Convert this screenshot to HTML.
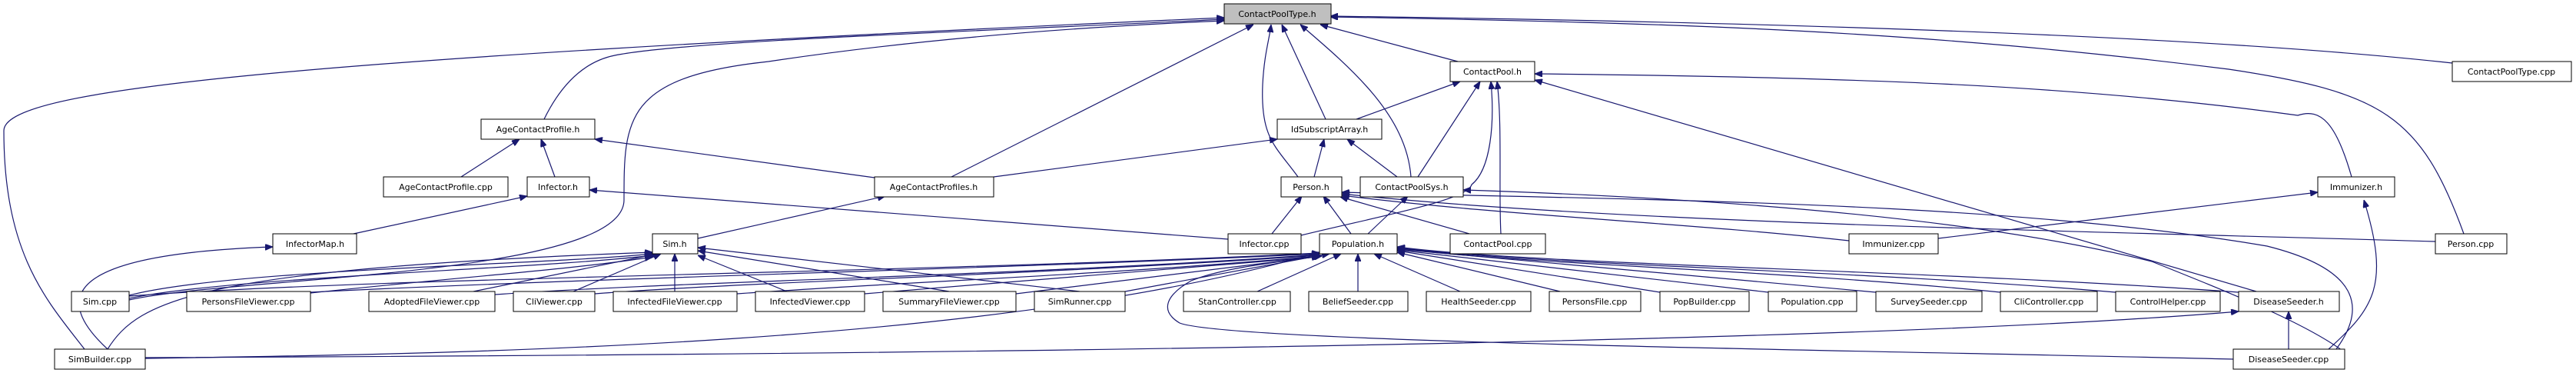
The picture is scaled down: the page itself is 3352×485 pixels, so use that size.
<!DOCTYPE html>
<html><head><meta charset="utf-8"><style>
html,body{margin:0;padding:0;background:#fff;}
svg{display:block;}
text{font-family:"DejaVu Sans","Liberation Sans",sans-serif;font-size:11px;fill:#000;text-anchor:middle;}
.n{fill:#fff;stroke:#000;stroke-width:1;}
.e{fill:none;stroke:#191970;stroke-width:1.2;}
</style></head><body>
<svg width="3352" height="485" viewBox="0 0 3352 485" xmlns="http://www.w3.org/2000/svg">
<defs><marker id="a" viewBox="0 0 10 8" refX="10" refY="4" markerWidth="10" markerHeight="8" markerUnits="userSpaceOnUse" orient="auto"><path d="M0,0L10,4L0,8z" fill="#191970" stroke="#191970"/></marker></defs>
<g class="e" marker-end="url(#a)">
<path d="M110,454 C60,390 5,330 5,170 C5,120 300,80 1593,23"/>
<path d="M708,155 C730,110 760,80 800,72 C900,52 1300,40 1593,25"/>
<path d="M168,390 C300,360 812,360 812,260 C812,155 812,100 1000,80 C1200,50 1400,35 1593,27"/>
<path d="M1238,230 L1631,32"/>
<path d="M1689,230 C1660,190 1640,180 1643,110 C1645,70 1652,50 1654,32"/>
<path d="M1725,155 L1668,32"/>
<path d="M1836,230 C1830,150 1760,90 1692,32"/>
<path d="M1897,80 L1718,32"/>
<path d="M3191,82 C2900,50 2400,30 1731,21"/>
<path d="M3206,304 C3150,150 3100,120 2900,90 C2500,40 2200,30 1731,22"/>
<path d="M1765,155 L1900,106"/>
<path d="M1845,230 L1926,106"/>
<path d="M1953,304 C1950,250 1955,160 1948,106"/>
<path d="M1693,306 C1800,280 1910,260 1915,240 C1940,220 1945,160 1940,106"/>
<path d="M3060,230 C3040,160 3020,140 2990,150 C2700,110 2400,100 1997,96"/>
<path d="M2936,379 L1997,104"/>
<path d="M600,230 L676,181"/>
<path d="M722,230 L704,181"/>
<path d="M1138,231 L774,181"/>
<path d="M1293,230 L1662,181"/>
<path d="M1710,230 L1723,181"/>
<path d="M1818,230 L1753,181"/>
<path d="M460,304 L686,255"/>
<path d="M1598,311 L767,247"/>
<path d="M908,310 L1152,255"/>
<path d="M140,454 C60,380 100,330 355,321"/>
<path d="M1655,304 L1694,255"/>
<path d="M1758,304 L1722,255"/>
<path d="M1912,304 L1744,256"/>
<path d="M2406,313 C2200,290 1950,280 1746,254"/>
<path d="M3169,314 C2700,300 2100,290 1746,252"/>
<path d="M3040,454 C3080,400 3070,350 2950,320 C2600,260 2100,260 1746,250"/>
<path d="M1780,304 L1832,255"/>
<path d="M3051,458 C3000,420 2900,380 2800,340 C2600,290 2300,260 1904,247"/>
<path d="M2522,310 L3016,250"/>
<path d="M3030,454 C3090,400 3110,370 3076,260"/>
<path d="M168,384 C300,350 700,345 849,330"/>
<path d="M168,388 C300,360 700,350 849,332"/>
<path d="M404,381 C600,360 750,350 849,334"/>
<path d="M616,379 L855,330"/>
<path d="M746,379 L860,330"/>
<path d="M878,379 L878,330"/>
<path d="M1024,379 L908,332"/>
<path d="M1235,379 L908,326"/>
<path d="M1405,379 L908,322"/>
<path d="M140,454 C180,390 260,350 849,328"/>
<path d="M168,385 C500,360 1200,355 1717,329"/>
<path d="M404,380 C800,360 1300,350 1717,330"/>
<path d="M644,383 C900,365 1300,360 1717,331"/>
<path d="M774,382 C1000,365 1300,360 1717,332"/>
<path d="M959,382 C1200,365 1400,360 1717,333"/>
<path d="M1125,382 L1717,334"/>
<path d="M1322,382 L1720,333"/>
<path d="M1464,379 L1730,330"/>
<path d="M1636,379 L1745,330"/>
<path d="M1767,379 L1767,330"/>
<path d="M1900,379 L1788,330"/>
<path d="M2030,379 L1818,328"/>
<path d="M2160,380 L1818,326"/>
<path d="M2301,380 L1818,325"/>
<path d="M2441,380 L1818,324"/>
<path d="M2603,380 C2300,350 2000,345 1818,323"/>
<path d="M2753,380 C2400,350 2000,345 1818,322"/>
<path d="M2913,380 C2500,350 2000,345 1818,321"/>
<path d="M189,466 C600,460 1300,450 1717,328"/>
<path d="M2906,467 C2400,455 1600,445 1535,420 C1510,405 1515,385 1550,365 C1600,345 1680,340 1720,332"/>
<path d="M2978,454 L2978,405"/>
<path d="M189,465 C1500,460 2500,440 2913,405"/>
</g>
<g>
<rect class="n" x="1593" y="5" width="139" height="26" style="fill:#bfbfbf"/><text x="1662" y="22">ContactPoolType.h</text>
<rect class="n" x="1887" y="80" width="110" height="26"/><text x="1942" y="97">ContactPool.h</text>
<rect class="n" x="3191" y="80" width="155" height="26"/><text x="3268" y="97">ContactPoolType.cpp</text>
<rect class="n" x="626" y="155" width="148" height="26"/><text x="700" y="172">AgeContactProfile.h</text>
<rect class="n" x="1662" y="155" width="136" height="26"/><text x="1730" y="172">IdSubscriptArray.h</text>
<rect class="n" x="499" y="230" width="162" height="26"/><text x="580" y="247">AgeContactProfile.cpp</text>
<rect class="n" x="686" y="230" width="81" height="26"/><text x="726" y="247">Infector.h</text>
<rect class="n" x="1138" y="230" width="155" height="26"/><text x="1215" y="247">AgeContactProfiles.h</text>
<rect class="n" x="1667" y="230" width="79" height="26"/><text x="1706" y="247">Person.h</text>
<rect class="n" x="1770" y="230" width="134" height="26"/><text x="1837" y="247">ContactPoolSys.h</text>
<rect class="n" x="3016" y="230" width="100" height="26"/><text x="3066" y="247">Immunizer.h</text>
<rect class="n" x="355" y="304" width="109" height="26"/><text x="410" y="321">InfectorMap.h</text>
<rect class="n" x="849" y="304" width="59" height="26"/><text x="878" y="321">Sim.h</text>
<rect class="n" x="1598" y="304" width="95" height="26"/><text x="1645" y="321">Infector.cpp</text>
<rect class="n" x="1717" y="304" width="101" height="26"/><text x="1767" y="321">Population.h</text>
<rect class="n" x="1887" y="304" width="124" height="26"/><text x="1949" y="321">ContactPool.cpp</text>
<rect class="n" x="2406" y="304" width="116" height="26"/><text x="2464" y="321">Immunizer.cpp</text>
<rect class="n" x="3169" y="304" width="93" height="26"/><text x="3215" y="321">Person.cpp</text>
<rect class="n" x="93" y="379" width="75" height="26"/><text x="130" y="396">Sim.cpp</text>
<rect class="n" x="243" y="379" width="161" height="26"/><text x="323" y="396">PersonsFileViewer.cpp</text>
<rect class="n" x="480" y="379" width="164" height="26"/><text x="562" y="396">AdoptedFileViewer.cpp</text>
<rect class="n" x="668" y="379" width="106" height="26"/><text x="721" y="396">CliViewer.cpp</text>
<rect class="n" x="798" y="379" width="161" height="26"/><text x="878" y="396">InfectedFileViewer.cpp</text>
<rect class="n" x="983" y="379" width="142" height="26"/><text x="1054" y="396">InfectedViewer.cpp</text>
<rect class="n" x="1149" y="379" width="173" height="26"/><text x="1235" y="396">SummaryFileViewer.cpp</text>
<rect class="n" x="1346" y="379" width="118" height="26"/><text x="1405" y="396">SimRunner.cpp</text>
<rect class="n" x="1540" y="379" width="139" height="26"/><text x="1610" y="396">StanController.cpp</text>
<rect class="n" x="1703" y="379" width="129" height="26"/><text x="1767" y="396">BeliefSeeder.cpp</text>
<rect class="n" x="1856" y="379" width="136" height="26"/><text x="1924" y="396">HealthSeeder.cpp</text>
<rect class="n" x="2016" y="379" width="119" height="26"/><text x="2075" y="396">PersonsFile.cpp</text>
<rect class="n" x="2160" y="379" width="116" height="26"/><text x="2218" y="396">PopBuilder.cpp</text>
<rect class="n" x="2301" y="379" width="115" height="26"/><text x="2358" y="396">Population.cpp</text>
<rect class="n" x="2441" y="379" width="138" height="26"/><text x="2510" y="396">SurveySeeder.cpp</text>
<rect class="n" x="2603" y="379" width="126" height="26"/><text x="2666" y="396">CliController.cpp</text>
<rect class="n" x="2753" y="379" width="136" height="26"/><text x="2821" y="396">ControlHelper.cpp</text>
<rect class="n" x="2913" y="379" width="131" height="26"/><text x="2978" y="396">DiseaseSeeder.h</text>
<rect class="n" x="71" y="454" width="118" height="26"/><text x="130" y="471">SimBuilder.cpp</text>
<rect class="n" x="2906" y="454" width="145" height="26"/><text x="2978" y="471">DiseaseSeeder.cpp</text>
</g>
</svg>
</body></html>
